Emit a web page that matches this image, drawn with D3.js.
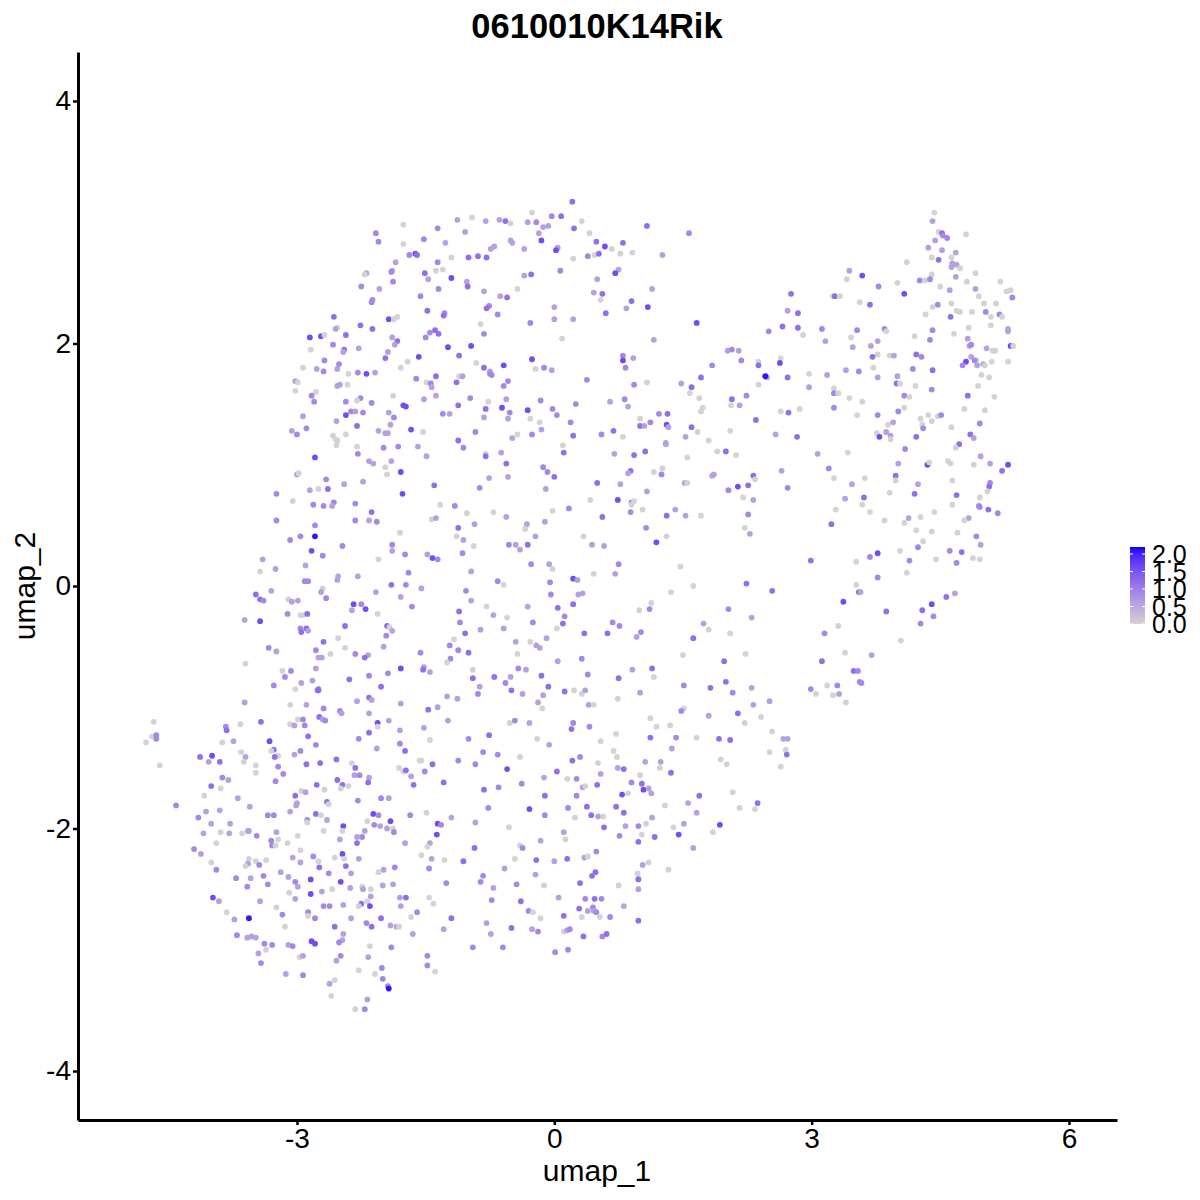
<!DOCTYPE html>
<html><head><meta charset="utf-8">
<script src="https://cdnjs.cloudflare.com/ajax/libs/d3/7.8.5/d3.min.js"></script>
<style>html,body{margin:0;padding:0;background:#fff}svg{display:block}text{font-family:"Liberation Sans",Arial,sans-serif;fill:#000}</style>
</head><body><svg id="chart" width="1200" height="1200"></svg>
<script>
const chartTitle="0610010K14Rik";
const xAxisTitle="umap_1", yAxisTitle="umap_2";
const xTicks=[-3,0,3,6], yTicks=[-4,-2,0,2,4];
const legendTicks=[0,0.5,1,1.5,2];
// each cell: [umap_1, umap_2, expression]
const cellsLowerLeft=[[-4.67,-1.12,0],[-4.69,-1.24,0],[-4.76,-1.29,0],[-4.64,-1.23,.9],[-4.64,-1.26,.9],[-4.6,-1.48,0],[-4.41,-1.81,.9],[-3.83,-1.16,.9],[-3.82,-1.19,1.2],[-3.66,-1.14,0],[-3.42,-1.12,1.2],[-3.61,-.96,.6],[-3.74,-1.28,.6],[-3.87,-1.29,0],[-4.13,-1.41,1.2],[-3.99,-1.4,1.6],[-4.03,-1.45,.6],[-3.9,-1.45,1.2],[-3.65,-1.37,0],[-3.6,-1.41,.6],[-3.62,-1.45,0],[-3.48,-1.48,0],[-3.48,-1.54,0],[-3.87,-1.58,.9],[-3.8,-1.6,.6],[-4,-1.65,1.2],[-3.89,-1.67,0],[-4.08,-1.73,0],[-3.69,-1.75,.6],[-3.55,-1.82,.6],[-4.06,-1.86,.6],[-3.9,-1.85,.6],[-4.15,-1.91,.9],[-4,-1.96,.6],[-3.78,-1.96,.6],[-4.09,-2.04,.6],[-3.89,-2.03,0],[-3.79,-2.04,.6],[-3.64,-2.04,0],[-3.57,-2.02,.9],[-3.56,-2.02,.6],[-3.47,-2.06,.9],[-3.94,-2.12,0],[-4.2,-2.17,.9],[-4.12,-2.21,.6],[-4,-2.28,0],[-3.94,-2.34,.9],[-3.56,-2.25,0],[-3.48,-2.27,0],[-3.36,-2.26,0],[-3.57,-2.29,.6],[-3.6,-2.31,0],[-3.44,-2.3,.9],[-3.71,-2.41,.9],[-3.54,-2.41,.6],[-3.39,-2.39,.9],[-3.34,-2.46,.9],[-3.58,-2.48,.9],[-3.98,-2.57,1.6],[-3.91,-2.6,.6],[-3.43,-2.6,.6],[-3.82,-2.69,0],[-3.73,-2.75,.6],[-3.56,-2.74,2.1],[-3.7,-2.88,.9],[-3.58,-2.9,.6],[-3.53,-2.89,.6],[-3.48,-2.9,.6],[-3.38,-2.95,.9],[-3.29,-2.96,.9],[-3.36,-3,0],[-3.45,-3.03,.6],[-3.42,-3.11,.9],[-3.13,-3.2,.6],[-2.93,-3.21,.9],[-3.1,-2.96,.6],[-3.05,-2.97,.9],[-2.97,-3.06,0],[-2.93,-3.05,.6],
[-3.08,-.98,0],[-2.89,-.98,.6],[-2.69,-1.01,.9],[-2.99,-1.1,0],[-2.93,-1.1,.9],[-3.08,-1.14,0],[-3.03,-1.15,.6],[-2.91,-1.15,.9],[-2.74,-1.08,1.2],[-2.7,-1.1,.6],[-2.67,-1.11,.9],[-2.87,-1.24,1.2],[-2.78,-1.31,.9],[-2.75,-.86,1.2],[-3.32,-1.28,1.6],[-3.27,-1.35,1.2],[-3.3,-1.36,0],[-3.22,-1.4,0],[-3.26,-1.41,1.2],[-2.96,-1.36,.9],[-3.03,-1.39,.6],[-3.22,-1.49,.9],[-3.16,-1.55,.9],[-3.25,-1.61,.9],[-2.89,-1.47,1.2],[-2.73,-1.46,1.2],[-2.54,-1.43,1.2],[-2.95,-1.69,0],[-2.9,-1.7,.6],[-2.68,-1.68,0],[-2.77,-1.64,1.2],[-2.53,-1.6,1.2],[-2.47,-1.64,1.2],[-2.49,-1.67,0],[-2.4,-1.65,0],[-3.02,-1.73,1.2],[-2.65,-1.78,1.2],[-2.63,-1.8,0],[-3,-1.79,.6],[-3.01,-1.81,.6],[-3.08,-1.86,.6],[-3.34,-1.89,.9],[-3.27,-1.89,.9],[-2.78,-1.88,1.2],[-2.72,-1.89,0],[-2.88,-1.93,.9],[-2.88,-1.95,0],[-2.65,-1.93,.6],[-2.46,-1.98,1.6],[-2.47,-2.02,0],[-2.69,-2.02,0],[-3.24,-2.03,.6],[-2.99,-2.06,0],[-3.3,-2.1,.9],[-3.22,-2.09,0],[-3.29,-2.14,.9],[-3.25,-2.14,0],[-3.11,-2.12,0],[-2.96,-2.18,0],[-2.5,-2.09,.6],[-3.05,-2.24,.6],[-2.96,-2.28,.6],[-2.81,-2.23,.9],[-2.75,-2.27,0],[-2.56,-2.24,0],[-2.47,-2.21,1.6],[-2.45,-2.25,0],[-2.74,-2.32,1.2],[-2.43,-2.31,1.2],[-3.19,-2.36,.6],[-3.1,-2.4,.6],[-3.02,-2.44,.9],[-2.99,-2.48,.6],[-2.84,-2.42,1.6],[-2.63,-2.37,.9],[-2.37,-2.37,.6],[-2.49,-2.44,1.6],[-3.09,-2.53,0],[-2.84,-2.54,1.6],[-2.71,-2.52,.6],[-2.59,-2.5,0],[-2.38,-2.49,.6],[-3.02,-2.58,.6],[-3.24,-2.65,0],[-2.69,-2.64,.9],[-2.62,-2.64,.9],[-2.46,-2.63,.6],[-2.87,-2.69,.9],[-2.87,-2.72,0],[-2.79,-2.74,.9],[-3.17,-2.71,.9],[-3.14,-2.81,0],[-2.56,-2.81,1.2],[-2.37,-2.74,.6],[-2.46,-2.87,.6],[-2.47,-2.92,.6],[-2.51,-2.94,.9],[-2.83,-2.93,1.6],[-2.79,-2.95,1.6],[-2.49,-3.05,.9],[-2.54,-3.09,.6],[-2.62,-3.28,.6],[-2.56,-3.25,0],[-2.6,-3.38,0],[-2.32,-3.49,0],[-2.21,-3.49,.9],[-2.18,-3.41,.6],[-2.3,-.95,.6],[-2.16,-.92,1.2],[-2.13,-.94,.6],[-2.5,-1.03,.9],[-2.48,-1.05,.6],[-2.16,-1.05,.6],[-2.06,-1.13,1.6],[-2.06,-1.16,0],[-1.93,-1.11,.6],[-2.16,-1.21,1.2],[-2.28,-1.26,.9],[-2.07,-1.34,.6],[-1.79,-.97,.6],[-1.8,-1.19,.6],[-1.8,-1.3,.9],[-1.74,-1.36,1.2],[-1.52,-1.17,.6],[-1.45,-1.27,0],[-1.47,-1.02,1.2],[-1.36,-1,.6],[-1.24,-1.11,.6],[-1.25,-.91,.6],[-1.13,-.93,.6],
[-2.36,-1.46,0],[-2.32,-1.5,1.2],[-2.33,-1.56,.6],[-2.27,-1.56,.9],[-2.16,-1.58,.6],[-2.17,-1.62,1.2],[-1.81,-1.5,0],[-1.76,-1.53,0],[-1.73,-1.52,1.2],[-1.67,-1.57,.6],[-1.51,-1.53,.9],[-1.57,-1.44,0],[-1.55,-1.44,0],[-1.42,-1.47,1.2],[-1.12,-1.44,.9],[-1.64,-1.64,1.2],[-1.29,-1.62,1.2],[-2.29,-1.77,.9],[-2.02,-1.75,.9],[-1.93,-1.75,.6],[-2.11,-1.88,1.6],[-2.05,-1.89,.9],[-1.68,-1.89,.9],[-1.49,-1.87,0],[-1.2,-1.91,.6],[-2.18,-1.94,0],[-1.91,-1.94,1.6],[-2.1,-1.97,.9],[-2.03,-1.98,.6],[-1.95,-2,.6],[-1.88,-2,0],[-1.87,-2.03,.9],[-2.21,-2.02,.6],[-2.3,-2.07,.6],[-2.24,-2.07,.9],[-2.3,-2.12,1.2],[-1.36,-1.96,1.6],[-1.32,-1.97,.9],[-1.37,-2.05,1.6],[-1.74,-2.12,.6],[-1.45,-2.12,.6],[-1.48,-2.15,0],[-1.55,-2.22,0],[-1.43,-2.25,.6],[-1.28,-2.26,0],[-2.28,-2.25,.6],[-1.86,-2.32,.9],[-1.99,-2.34,.6],[-2.05,-2.36,0],[-1.46,-2.33,.9],[-2,-2.47,.6],[-1.88,-2.46,.6],[-2.24,-2.48,0],[-2.23,-2.5,.6],[-2.14,-2.5,0],[-1.26,-2.45,.9],[-2.14,-2.56,.6],[-2.18,-2.6,0],[-2.25,-2.62,1.2],[-2.28,-2.64,0],[-2.15,-2.64,1.6],[-1.8,-2.57,.6],[-1.73,-2.57,1.2],[-1.46,-2.57,0],[-1.41,-2.62,0],[-1.79,-2.64,.6],[-1.6,-2.69,.9],[-1.67,-2.73,0],[-2.02,-2.74,1.2],[-1.2,-2.74,1.2],[-2.19,-2.78,.9],[-2.13,-2.81,1.2],[-1.91,-2.8,.6],[-1.84,-2.81,.6],[-1.81,-2.81,0],[-1.29,-2.83,.6],[-1.65,-2.87,.6],[-2.15,-2.97,0],[-1.9,-2.98,.9],[-1.48,-3.05,.9],[-2.17,-3.06,.6],[-1.48,-3.13,.9],[-2.01,-3.15,.9],[-2.28,-3.17,0],[-2.09,-3.2,0],[-1.39,-3.18,0],[-2,-3.24,.9],[-1.94,-3.3,.9],[-1.93,-3.32,2.1]];
const cellsLowerRight=[[-.89,-.89,.9],[-.5,-.86,1.2],[-.37,-.89,.6],[-.13,-.9,.6],[-.19,-.96,.6],[-.14,-1.01,0],[.12,-.87,1.2],[.23,-.86,0],[.32,-.89,0],[.36,-.86,.6],[.4,-.98,.6],[.46,-.98,0],[.74,-.93,0],[1,-.88,.6],[2.08,-.88,.9],[2.32,-.98,.6],[2.51,-.95,.6],[1.51,-1.01,0],[1.48,-1.03,.9],[1.8,-1.07,.6],[2.14,-1.05,1.2],[2.22,-1.13,0],[2.41,-1.08,0],[-.52,-1.13,0],[-.46,-1.11,.9],[-.29,-1.13,.6],[.22,-1.13,.9],[.2,-1.18,1.2],[.41,-1.16,.9],[1.12,-1.09,0],[1.19,-1.16,0],[1.35,-1.15,0],[.72,-1.22,0],[.54,-1.28,0],[1.12,-1.25,1.2],[1.42,-1.25,.9],[1.66,-1.25,0],[1.92,-1.26,1.2],[2.05,-1.27,1.2],[2.54,-1.2,0],[2.67,-1.26,.6],[2.72,-1.26,.6],[-1,-1.26,.9],[-.76,-1.23,1.2],[-.2,-1.26,0],[-.06,-1.31,.6],[-.83,-1.37,.9],[-.66,-1.39,.9],[-.4,-1.41,0],[-.92,-1.47,.9],[-.55,-1.51,1.6],[.21,-1.44,1.2],[.3,-1.41,.9],[.03,-1.53,1.2],[.51,-1.46,0],[.69,-1.36,0],[.73,-1.41,0],[1.37,-1.34,.6],[2.51,-1.37,0],[2.7,-1.35,0],[2.71,-1.39,1.2],[1.94,-1.43,0],[2.01,-1.47,0],[2.64,-1.49,0],
[.74,-1.5,.6],[.81,-1.51,1.2],[1.06,-1.45,.6],[1.24,-1.45,.6],[1.23,-1.5,0],[1.36,-1.54,1.2],[1,-1.56,0],[.54,-1.55,.6],[-.12,-1.58,.6],[.15,-1.59,0],[.26,-1.59,.9],[-.38,-1.63,.9],[-.82,-1.68,1.2],[-.65,-1.66,.9],[.33,-1.66,.6],[.36,-1.65,0],[.5,-1.64,1.2],[.9,-1.62,.9],[1.02,-1.63,1.2],[1.04,-1.68,1.6],[1.1,-1.67,.6],[1.13,-1.71,.6],[.86,-1.71,0],[.79,-1.72,1.6],[-.11,-1.73,1.2],[.26,-1.73,.9],[1.69,-1.73,1.2],[2.08,-1.7,0],[-.77,-1.83,.9],[-.29,-1.84,1.6],[.16,-1.83,.9],[.38,-1.82,1.2],[.72,-1.82,1.2],[1.29,-1.81,0],[1.56,-1.79,.6],[2.37,-1.79,1.2],[2.16,-1.83,0],[2.34,-1.84,0],[-.11,-1.89,.9],[.24,-1.91,0],[.43,-1.89,1.2],[.51,-1.9,.6],[.57,-1.9,0],[.81,-1.87,1.2],[1.66,-1.87,.6],[1.14,-1.91,.6],[-.92,-1.95,.6],[-.53,-1.99,0],[.58,-1.99,1.2],[.83,-1.98,.6],[.98,-1.98,.9],[1.07,-1.96,0],[1.39,-1.99,0],[1.51,-1.96,.6],[1.93,-1.97,1.6],[1.85,-2.03,0],[.11,-2.03,.6],[.13,-2.09,0],[.76,-2.06,.9],[1.02,-2.05,0],[1.17,-2.07,1.2],[1.45,-2.05,1.6],[-.16,-2.1,.6],[.98,-2.11,1.2],[-.93,-2.16,1.2],[-.4,-2.14,0],[-.37,-2.16,.9],[1.62,-2.16,.6],[.49,-2.19,.9],[-1.06,-2.27,1.2],[-.46,-2.25,0],[-.21,-2.26,1.2],[0,-2.27,.6],[.15,-2.25,1.2],[.35,-2.24,.6],[.39,-2.23,0],[1.1,-2.28,0],[1.03,-2.3,.6],[-.58,-2.33,.6],[-.22,-2.38,.6],[-.83,-2.39,.9],[.48,-2.36,1.2],[.44,-2.39,1.2],[.97,-2.37,0],[1.33,-2.34,0],[.98,-2.41,0],[.98,-2.42,1.2],[-.86,-2.44,.9],[-.44,-2.46,.9],[-.12,-2.47,0],[.3,-2.45,1.2],[.75,-2.47,0],[-.71,-2.49,.6],[.98,-2.5,.6],[-.73,-2.59,.9],[-.39,-2.6,1.2],[.05,-2.57,.6],[.36,-2.58,.9],[.47,-2.58,1.2],[.55,-2.58,.9],[.81,-2.64,.6],[-.3,-2.68,.9],[-.25,-2.69,0],[.29,-2.66,1.2],[.39,-2.68,.6],[.45,-2.65,.9],[.46,-2.68,.6],[.49,-2.69,.9],[-.16,-2.74,0],[.11,-2.72,1.2],[.32,-2.73,0],[.53,-2.73,0],[.65,-2.73,.9],[.98,-2.76,1.2],[-.79,-2.78,.6],[-.5,-2.82,1.2],[-.26,-2.83,.6],[-.19,-2.85,.9],[.11,-2.85,0],[.15,-2.84,.6],[.18,-2.83,.9],[-.74,-2.87,.6],[.34,-2.89,1.2],[.56,-2.89,.9],[.61,-2.87,1.2],[-.95,-2.98,.9],[-.6,-2.98,.9],[.01,-3.02,.9],[.16,-3,.9]];
const cellsCentreLeft=[[-2.79,1.06,1.6],[-2.29,1.09,.9],[-2.16,1.03,.6],[-2.11,1.01,.6],[-1.97,.98,0],[-1.9,1.03,.6],[-1.49,1.07,.6],[-.8,1.09,0],[-.8,1.07,1.2],[-1.95,.92,0],[-1.79,.94,1.6],[-3,.92,.6],[-2.98,.93,0],[-2.66,.88,.9],[-2.45,.84,.6],[-2.23,.86,.6],[-.76,.89,.6],[-.87,.81,.9],[-1.4,.83,1.2],[-3.24,.76,.9],[-2.85,.79,.6],[-2.75,.8,0],[-2.64,.8,1.2],[-1.77,.76,1.6],[-3.05,.7,0],[-2.81,.67,.9],[-2.69,.66,.9],[-2.57,.69,.9],[-2.59,.66,.6],[-2.32,.68,.9],[-1.33,.67,0],[-1.16,.66,.9],[-2.13,.61,1.2],[-1.02,.6,0],[-.71,.61,0],[-3.24,.54,.9],[-2.32,.54,.9],[-2.16,.54,.6],[-2.07,.53,.9],[-1.43,.55,0],[-1.38,.56,.6],[-2.79,.5,.9],[-.93,.51,.6],[-1.12,.48,1.2],[-1.8,.44,0],[-2.96,.41,.9],[-2.79,.41,2.1],[-3.08,.38,.9],[-1.14,.41,0],[-1.06,.38,.6],[-2.47,.33,.9],[-1.89,.34,.9],[-1.89,.29,.6],[-.94,.33,0],[-2.83,.29,1.6],[-2.7,.25,.9],[-1.74,.26,.9],[-1.48,.26,.6],[-1.07,.27,.9],[-1.42,.23,1.6],[-1.36,.22,.9],[-3.4,.22,.6],[-2.05,.22,0],[-3.25,.14,.6],[-2.9,.17,.6],[-3.43,.12,0],[-.97,.12,.6],[-1.7,.11,.9],[-2.52,.08,.6],[-2.53,.05,.6],[-2.29,.08,.6],[-2.91,.04,.9],[-2.87,.04,.9],[-1.9,.01,1.2],[-1.73,.01,.9],[-.66,.04,.9],
[-3.3,-.04,.6],[-2.7,-.02,0],[-2.72,-.05,.6],[-2.08,-.05,.6],[-1.55,-.02,.6],[-1.03,-.04,.9],[-3.48,-.07,1.2],[-3.43,-.11,1.2],[-3.39,-.12,.9],[-3.1,-.11,0],[-3.06,-.13,.6],[-2.99,-.12,.6],[-2.66,-.1,.9],[-1.79,-.09,.6],[-.97,-.12,.6],[-2.34,-.15,1.6],[-2.25,-.15,.9],[-2.2,-.19,1.6],[-2.36,-.2,.6],[-1.66,-.17,.9],[-.79,-.17,0],[-1.11,-.21,1.2],[-3.11,-.23,.9],[-2.96,-.24,0],[-2.93,-.24,0],[-2.88,-.23,1.2],[-2.06,-.23,0],[-.71,-.24,.6],[-3.61,-.28,.6],[-3.43,-.29,1.6],[-1.1,-.3,.9],[-2.44,-.33,1.2],[-1.95,-.33,1.2],[-1.92,-.34,0],[-1.89,-.37,.6],[-2.96,-.35,.9],[-2.89,-.35,1.2],[-2.95,-.38,1.2],[-2.87,-.37,.6],[-.86,-.36,.6],[-1.04,-.39,1.2],[-1.96,-.41,.9],[-2.52,-.43,0],[-1.17,-.44,0],[-2.69,-.46,1.2],[-3.33,-.51,.9],[-3.24,-.54,.6],[-2.78,-.53,.9],[-2.44,-.51,0],[-1.99,-.5,.6],[-1.22,-.49,.9],[-1.12,-.53,.9],[-1,-.55,1.2],[-2.61,-.56,0],[-2.32,-.56,.9],[-1.56,-.55,.9],[-2.17,-.57,.6],[-2.21,-.59,1.2],[-2.75,-.59,.6],[-2.71,-.59,.6],[-1.21,-.6,.9],[-1.25,-.63,0],[-3.6,-.64,0],[-2.78,-.68,.6],[-3.07,-.7,.9],[-3.17,-.7,0],[-1.52,-.67,.6],[-1.53,-.69,1.2],[-1.45,-.71,.6],[-1.79,-.68,1.6],[-.95,-.69,0],[-1.94,-.72,.9],[-3.14,-.75,.9],[-2.16,-.74,.9],[-.95,-.76,1.2],[-.7,-.75,1.2],[-2.95,-.8,.6],[-2.82,-.78,.6],[-2.39,-.77,1.2],[-3.27,-.82,.9],[-2.02,-.83,1.2],[-.87,-.83,.6],[-3.02,-.85,0],[-2.75,-.85,1.2],[-2.76,-.86,1.2]];
const cellsCentreRight=[[-.62,1.1,.6],[.11,1.1,1.2],[.7,1.09,.6],[.93,1.08,1.2],[1.06,1.11,1.2],[1.9,1.11,0],[2,1.11,1.2],[2.12,1.08,0],[1.55,1.06,0],[-.56,1.01,1.2],[-.13,.98,.9],[-.08,.94,.9],[0,.9,1.2],[-.54,.9,.6],[.89,.95,1.2],[.86,.93,.6],[1.16,.94,0],[1.26,.97,0],[1.25,.92,.9],[1.84,.91,.6],[1.86,.92,.6],[2.32,.91,1.2],[2.34,.88,0],[.5,.85,1.2],[.77,.84,.6],[1.52,.85,.6],[1.55,.85,0],[-.1,.8,.6],[1.08,.78,.6],[2.14,.82,1.6],[2.26,.83,1.2],[2.03,.79,.9],[2.2,.73,0],[.42,.71,0],[.74,.71,1.6],[.9,.69,.9],[.93,.7,0],[.9,.67,0],[2.32,.71,.6],[.17,.64,.9],[-.02,.62,0],[.89,.61,.9],[1.03,.63,0],[1.41,.63,.6],[-.56,.57,.6],[.56,.57,1.2],[1.31,.58,1.2],[1.53,.58,.6],[1.71,.58,0],[2.26,.59,.9],[-.11,.53,.6],[-.32,.51,.6],[-.34,.47,0],[1.07,.48,.9],[2.22,.48,0],[-.22,.41,.6],[.34,.41,0],[2.28,.43,.6],[1.31,.41,0],[1.19,.36,1.6],[-.53,.34,.9],[-.45,.34,.6],[-.31,.34,1.2],[-.4,.3,.6],[.44,.34,.6],[.58,.33,.6],[-.27,.18,.9],[-.06,.18,.6],[-.02,.14,0],[.75,.18,.9],[1.47,.16,0],[.46,.1,0],[.71,.1,.6],[.22,.06,1.6],[.27,.05,.6],[-.59,.01,0],[-.05,.03,.9],[2.24,.02,1.2],[1.62,0,0],[1.36,-.05,0],[-.04,-.07,.9],[.28,-.07,.6],[.33,-.06,.6],[.22,-.15,1.2],[-.31,-.17,.6],[.04,-.18,1.2],[1.13,-.14,0],[.99,-.2,0],[1.11,-.19,.9],[2.03,-.19,.9],[.12,-.25,.9],[-.55,-.26,0],[2.3,-.26,.6],[-.25,-.3,.9],[.1,-.31,1.2],[.68,-.3,.9],[.76,-.33,.9],[1.74,-.31,.6],[.03,-.35,0],[1.8,-.36,0],[-.59,-.35,.6],[.35,-.39,1.2],[.62,-.39,1.2],[1.01,-.38,.9],[2.05,-.39,0],[.96,-.42,.6],[1.62,-.43,1.2],[-.09,-.43,.6],[-.45,-.46,.6],[-.28,-.46,0],[-.21,-.49,.6],[-.17,-.51,.6],[-.43,-.56,0],[1.5,-.57,0],[2.23,-.56,0],[.04,-.62,.6],[.32,-.6,.9],[1.98,-.62,1.2],[-.42,-.68,.9],[-.33,-.69,.6],[.91,-.69,.6],[1.14,-.68,1.2],[-.15,-.74,1.2],[.39,-.73,.9],[1.16,-.75,0],[-.51,-.75,.6],[.75,-.76,1.2],[-.57,-.8,.9],[2,-.79,1.2],[-.07,-.83,1.2],[1.51,-.82,.9],[1.82,-.84,1.2],[2.3,-.84,.6]];
const cellsUpperLeft=[[-2.08,2.91,.9],[-1.76,2.98,0],[-2.05,2.84,.9],[-1.76,2.82,0],[-1.36,2.95,.9],[-1.13,3.02,.6],[-.96,3.04,0],[-.8,3.01,.6],[-.64,3.02,.6],[-1.04,2.92,.6],[-1.52,2.86,.9],[-1.27,2.83,.6],[-1.62,2.74,1.6],[-1.6,2.73,1.2],[-1.69,2.73,.9],[-.7,2.8,.6],[-.74,2.78,.6],[-1,2.71,1.2],[-.89,2.72,1.2],[-.79,2.71,1.2],[-1.2,2.71,0],[-1.85,2.67,.6],[-1.36,2.67,.9],[-1.51,2.58,1.2],[-1.38,2.6,0],[-1.3,2.61,0],[-1.89,2.6,.6],[-1.9,2.59,.9],[-2.19,2.58,.6],[-2.21,2.57,0],[-1.47,2.53,.6],[-1.2,2.54,1.6],[-1.02,2.51,.6],[-1.88,2.51,.9],[-1.01,2.47,1.2],[-2.25,2.47,.9],[-2.04,2.45,.6],[-1.35,2.45,.9],[-.82,2.43,.6],[-1.56,2.39,.9],[-.63,2.39,.6],[-2.12,2.36,.9],[-2.13,2.34,.9],[-.76,2.31,.9],[-.79,2.29,1.2],[-1.48,2.27,1.2],[-1.28,2.25,.9],[-1.29,2.23,1.2],[-.66,2.24,.9],[-2.57,2.22,1.2],[-1.93,2.2,1.6],[-1.83,2.22,0],[-1.87,2.2,0],[-.86,2.16,0],[-2.26,2.15,1.2],[-2.53,2.13,0],[-2.55,2.12,.6],[-2.12,2.12,1.2],[-1.39,2.11,1.2],[-1.45,2.09,.9],[-1.35,2.08,1.2],[-.82,2.08,.9],[-2.85,2.05,1.6],[-2.72,2.06,1.6],[-2.68,2.07,0],[-2.43,2.07,1.2],[-1.89,2.05,.6],[-1.5,2.05,.9],[-1.83,2.02,1.2],[-1.86,1.99,.6],[-1.24,1.97,1.6],[-.97,1.98,1.6],[-2.58,1.99,.9],[-2.84,1.95,0],[-2.45,1.95,1.2],[-2.46,1.93,.6],[-2.28,1.96,.6],[-1.94,1.93,.6],[-1.11,1.9,1.2],[-1.58,1.89,1.6],[-1.97,1.88,1.2],[-2.68,1.86,.9],[-2.51,1.83,.9],[-1.71,1.85,0],[-.91,1.84,0],[-1.79,1.8,0],[-2.93,1.8,0],[-2.77,1.79,.6],[-2.53,1.79,.6],[-.82,1.8,1.2],[-.75,1.77,.6],[-.75,1.75,.9],[-.73,1.74,.9],[-2.69,1.77,.9],[-2.29,1.76,.9],[-2.19,1.75,1.6],[-2.09,1.76,.6],[-2.4,1.75,0],[-1.38,1.73,1.2],[-1.11,1.73,0],[-1.07,1.73,.6],[-1.61,1.71,.9],[-3.02,1.69,.6],[-2.99,1.68,0],[-1.49,1.68,0],[-1.44,1.67,.9],[-1.43,1.64,.6],[-1.14,1.68,1.2],[-2.5,1.66,.6],[-2.53,1.65,.6],[-2.41,1.66,0],[-3.02,1.61,0],[-2.78,1.6,0],[-2.83,1.57,.9],[-1.88,1.57,0],[-1.38,1.57,.6],[-.98,1.55,.9],[-1.52,1.54,.6],[-2.26,1.55,.9],[-2.3,1.53,0],[-2.8,1.52,.9],[-2.43,1.52,.9],[-2.13,1.51,.9],[-.77,1.52,0],[-1.76,1.49,1.6],[-1.73,1.48,1.6],[-1.12,1.49,1.2],[-2.37,1.44,.9],[-2.32,1.44,.6],[-2.43,1.41,1.6],[-2.23,1.43,.9],[-1.93,1.43,.6],[-1.3,1.42,.9],[-1.22,1.42,.6],[-.8,1.46,1.2],[-2.93,1.4,.6],[-1.87,1.39,.9],[-.82,1.39,.6],[-2.54,1.36,.6],[-1.91,1.33,.6],[-2.3,1.32,1.2],[-2.89,1.3,.9],[-3.06,1.28,.6],[-3,1.25,.9],[-1.67,1.29,1.6],[-1.53,1.27,0],[-2.05,1.28,.6],[-1.97,1.26,.6],[-1.94,1.26,.6],[-.92,1.27,.9],[-2.58,1.24,0],[-2.43,1.25,0],[-2.55,1.21,0],[-2.53,1.2,0],[-1.12,1.2,1.2],[-2.54,1.16,0],[-2.3,1.15,0],[-1.82,1.15,.9],[-1.59,1.15,.6],[-1.99,1.14,.9],[-1.06,1.14,.9]];
const cellsUpperRight=[[.21,3.17,1.2],[-.26,3.08,0],[-.03,3.05,.9],[.08,3.05,1.2],[-.57,3.01,1.2],[-.51,2.99,0],[-.31,3,.6],[-.21,3,.9],[.32,3.01,0],[1.08,2.97,1.2],[-.13,2.96,.6],[-.07,2.97,.6],[.23,2.95,1.2],[.41,2.91,0],[1.57,2.91,.9],[-.18,2.91,.6],[-.51,2.85,.6],[-.49,2.83,.6],[-.15,2.85,1.6],[.49,2.84,1.2],[.8,2.83,1.2],[.59,2.8,1.6],[.04,2.79,.6],[.02,2.77,1.6],[-.35,2.78,.6],[.67,2.78,0],[.77,2.74,0],[.91,2.75,0],[.47,2.73,0],[.52,2.74,1.2],[.39,2.72,.9],[.22,2.7,0],[1.26,2.73,.6],[.07,2.6,.9],[.75,2.61,.6],[.71,2.58,1.6],[-.35,2.56,.6],[-.27,2.57,1.2],[.5,2.53,.6],[-.43,2.45,0],[1.14,2.45,.6],[.46,2.42,.6],[.56,2.41,1.2],[.54,2.36,0],[-.55,2.38,1.2],[.9,2.35,1.2],[0,2.3,.6],[.84,2.29,.6],[1.09,2.3,1.6],[.6,2.25,1.2],[0,2.2,.6],[.22,2.2,.6],[-.28,2.17,.9],[1.66,2.17,1.6],[.09,2.04,0],[1.16,2.03,.6],[2.02,1.94,.6],[2.07,1.95,.9],[2.15,1.94,.6],[.8,1.9,.9],[.92,1.88,.6],[-.26,1.87,1.6],[.8,1.86,1.6],[2.18,1.86,.9],[-.59,1.82,1.6],[.83,1.8,.9],[-.12,1.8,.9],[-.22,1.79,0],[-.03,1.78,.6],[1.84,1.82,.9],[2.38,1.85,0],[2.38,1.82,1.2],[1.71,1.72,1.2],[.38,1.7,.9],[-.54,1.69,.9],[1.08,1.68,0],[-.59,1.65,.9],[.93,1.66,.9],[1.48,1.67,.6],[1.6,1.64,1.2],[2.38,1.66,0],[1.58,1.59,0],[-.56,1.54,.6],[1.69,1.55,0],[-.16,1.53,.9],[.82,1.54,.9],[.65,1.52,.6],[2.07,1.54,1.2],[2.24,1.57,.9],[2.06,1.49,0],[2.16,1.49,.6],[-.61,1.47,1.6],[-.31,1.45,1.6],[.25,1.5,.9],[.86,1.48,.6],[-.02,1.46,.9],[1.73,1.47,0],[-.52,1.43,.9],[1.71,1.44,0],[1.22,1.42,.9],[1.32,1.42,1.2],[.03,1.41,.9],[-.54,1.38,.6],[-.28,1.38,0],[1,1.38,0],[-.17,1.35,0],[.19,1.35,.9],[1.12,1.35,.9],[2.35,1.37,1.2],[1,1.32,1.2],[1.05,1.32,.6],[1.31,1.33,1.6],[1.33,1.31,.6],[-.15,1.29,.6],[1.6,1.31,1.2],[.69,1.28,1.2],[1.67,1.27,0],[2.05,1.28,0],[-.43,1.25,0],[-.26,1.25,.9],[.22,1.24,1.2],[.55,1.25,.9],[.8,1.23,0],[-.49,1.22,.6],[1.53,1.23,.6],[1.8,1.2,0],[.1,1.16,0],[1.3,1.18,.6],[1.3,1.17,.6]];
const cellsFarRightUpper=[[4.43,3.08,0],[4.41,3.01,.6],[4.48,2.92,0],[4.52,2.91,1.2],[4.53,2.89,.9],[4.58,2.87,.9],[4.8,2.9,0],[4.44,2.85,.6],[4.36,2.79,.6],[4.52,2.77,.6],[4.68,2.75,.6],[4.63,2.71,0],[4.4,2.71,0],[4.48,2.69,1.2],[4.11,2.67,0],[4.64,2.66,.6],[4.69,2.65,.6],[4.63,2.63,.6],[4.73,2.62,0],[4.91,2.58,0],[4.4,2.57,0],[3.44,2.6,.6],[3.59,2.56,1.6],[3.41,2.53,0],[4.68,2.55,.6],[4.26,2.52,.9],[4.32,2.52,0],[4.38,2.53,.9],[4.81,2.51,0],[5.2,2.51,0],[4,2.5,0],[3.78,2.47,.9],[4.5,2.47,0],[4.61,2.44,.6],[4.91,2.45,.6],[5.32,2.44,0],[5.27,2.43,0],[4.08,2.41,1.6],[2.76,2.41,1.2],[3.25,2.39,0],[3.27,2.39,1.2],[3.33,2.39,0],[4.95,2.39,0],[5.34,2.38,.9],[3.56,2.34,0],[3.68,2.32,1.2],[4.47,2.32,.9],[4.63,2.33,0],[4.41,2.3,0],[5.01,2.33,0],[5.15,2.33,0],[2.72,2.27,.6],[2.84,2.25,1.2],[4.69,2.27,0],[4.73,2.26,0],[4.87,2.26,0],[5.03,2.26,.9],[4.33,2.24,0],[4.62,2.22,1.2],[5.19,2.24,.9],[5.09,2.22,0],[5.22,2.22,0],[2.66,2.14,1.2],[2.84,2.13,1.2],[3.12,2.12,.9],[2.5,2.1,.9],[2.9,2.07,0],[3.53,2.11,.9],[3.85,2.12,.9],[3.87,2.1,0],[4.41,2.11,.9],[4.83,2.13,0],[5.09,2.15,0],[5.29,2.12,.6],[5.29,2.1,.6],[4.66,2.08,0],[3.46,2.05,0],[4.2,2.06,0],[4.82,2.04,.6],[3.16,2.02,.6],[3.77,2.02,.6],[4.38,2.03,.9],[3.69,1.98,.6],[3.48,1.97,.6],[4.84,1.98,.6],[4.86,1.99,.9],[5.04,1.96,.6],[5.32,1.98,1.6],[5.35,1.98,0],[5.14,1.94,0],[5.11,1.94,0],[2.64,1.88,0],[2.63,1.84,1.6],[3.77,1.91,0],[3.91,1.9,0],[3.96,1.9,.6],[3.71,1.89,1.2],[4.22,1.91,1.2],[4.28,1.89,.9],[4.86,1.89,.6],[4.92,1.86,0],[4.9,1.86,.9],[4.8,1.85,1.6],[4.76,1.82,.9],[4.93,1.82,.6],[5,1.83,.6],[5.02,1.82,0],[5.1,1.85,0],[5.29,1.85,0],
[3.72,1.8,0],[3.4,1.78,.6],[3.55,1.77,.9],[4.18,1.79,.9],[4.41,1.78,1.2],[2.97,1.75,0],[3.18,1.74,.6],[2.48,1.72,.6],[2.46,1.73,2.1],[2.72,1.72,1.2],[3.77,1.72,.6],[4,1.73,.6],[4.98,1.74,0],[5.07,1.72,0],[3.99,1.67,1.2],[4.03,1.67,0],[4.21,1.65,0],[2.97,1.64,.6],[3.26,1.63,0],[3.26,1.59,.9],[3.31,1.59,0],[4.94,1.65,0],[4.4,1.62,.9],[3.44,1.55,0],[3.59,1.52,0],[4.08,1.57,.9],[4.14,1.56,0],[4.82,1.57,1.2],[5.13,1.56,0],[3.26,1.47,.9],[4.08,1.47,0],[4.78,1.46,0],[5.02,1.45,0],[2.86,1.46,0],[2.64,1.44,0],[2.73,1.43,1.2],[4.01,1.44,.9],[3.53,1.41,0],[3.77,1.41,.9],[4.36,1.41,0],[4.47,1.4,0],[4.51,1.41,.9],[4.27,1.38,0],[4.4,1.36,0],[3.95,1.35,.6],[3.89,1.33,0],[4.29,1.33,0],[4.96,1.34,.9],[4.3,1.3,.9],[4.63,1.31,0],[3.76,1.26,0],[3.87,1.27,.6],[3.92,1.24,.6],[3.92,1.21,0],[3.79,1.23,1.6],[4.22,1.23,1.2],[4.85,1.25,1.2],[4.89,1.22,.6],[2.58,1.25,.6],[2.83,1.23,1.2],[4.72,1.17,1.2],[4.68,1.14,0],[4.09,1.13,.9]];
const cellsFarRightLower=[[3.07,1.09,.6],[3.42,1.1,0],[4.97,1.07,.6],[4.01,1.01,.6],[4.35,1,1.6],[4.37,1.02,0],[4.59,1.03,0],[4.62,1.01,0],[4.89,1,0],[5.08,1.01,.6],[5.29,1,1.6],[5.22,.95,1.2],[2.65,.95,.6],[3.2,.97,.9],[3.98,.91,1.2],[3.26,.89,0],[3.62,.89,0],[3.98,.87,0],[4.64,.87,0],[3.47,.84,.6],[4.24,.84,.6],[5.08,.85,.9],[5.07,.82,1.2],[5.05,.78,0],[2.72,.81,.9],[3.91,.77,0],[4.2,.76,1.2],[4.69,.75,1.2],[3.39,.72,.6],[3.61,.73,1.2],[4.96,.73,0],[3.59,.67,0],[4.64,.67,0],[4.95,.66,.9],[4.96,.65,.9],[5.06,.63,1.2],[3.28,.63,0],[3.68,.61,0],[4.43,.61,0],[5.17,.6,.9],[4.27,.57,0],[4.13,.56,.6],[3.85,.54,0],[4.08,.52,0],[4.83,.56,.6],[4.78,.54,0],[3.23,.51,1.2],[4.22,.46,0],[4.4,.45,0],[4.7,.44,0],[4.92,.41,.9],[4.3,.37,0],[4.97,.34,.6],[4.24,.32,.9],[4.03,.29,0],[4.61,.29,.9],[4.75,.28,1.2],[3.68,.24,.9],[3.77,.27,1.6],[4.88,.23,0],[4.96,.22,0],[4.45,.22,0],[2.99,.21,1.2],[4.14,.21,.9],[3.52,.2,0],[4.69,.19,.9],[4.11,.11,0],[3.77,.07,.9],[3.52,.01,0],[2.54,-.04,1.2],[3.55,-.05,1.2],[3.57,-.05,.6],[4.67,-.06,.6],[4.57,-.09,1.2],[3.37,-.13,1.6],[4.4,-.15,1.6],[3.87,-.21,1.2],[4.29,-.2,1.2],[4.42,-.25,.9],[4.27,-.31,.9],[3.31,-.33,0],[3.15,-.39,.9],[4.04,-.45,0],[3.39,-.55,0],[3.7,-.57,.6],[3.12,-.62,1.2],[3.49,-.7,1.2],[3.54,-.7,.9],[3.56,-.79,.9],[3.58,-.8,.9],[2.99,-.85,.9],[3.18,-.82,0],[3.3,-.82,.9],[3.05,-.89,0],[3.25,-.9,0],[3.32,-.89,.6],[3.4,-.96,0]];
const allCells=[...cellsLowerLeft,...cellsLowerRight,...cellsCentreLeft,...cellsCentreRight,...cellsUpperLeft,...cellsUpperRight,...cellsFarRightUpper,...cellsFarRightLower];

const svg=d3.select("#chart");
const x=d3.scaleLinear().domain([-5.553,6.56]).range([78,1117]);
const y=d3.scaleLinear().domain([-4.404,4.404]).range([1120,52]);
const color=d3.scaleLinear().domain([0,2.2]).range(["lightgrey","blue"]).interpolate(d3.interpolateLab);

svg.append("g").selectAll("circle").data(allCells).join("circle")
  .attr("cx",d=>x(d[0])).attr("cy",d=>y(d[1])).attr("r",2.9).attr("fill",d=>color(d[2]));

const plainInt=d=>String(d);
const gx=svg.append("g").attr("transform","translate(0,1120)")
  .call(d3.axisBottom(x).tickValues(xTicks).tickSizeOuter(0).tickSizeInner(5).tickPadding(3).tickFormat(plainInt));
const gy=svg.append("g").attr("transform","translate(78,0)")
  .call(d3.axisLeft(y).tickValues(yTicks).tickSizeOuter(0).tickSizeInner(5).tickPadding(2).tickFormat(plainInt));
[gx,gy].forEach(g=>{
  g.select(".domain").attr("stroke","#000").attr("stroke-width",3);
  g.selectAll(".tick line").attr("stroke","#000").attr("stroke-width",2.5);
  g.selectAll(".tick text").attr("font-size",28).attr("fill","#000").attr("font-family","Liberation Sans");
});

svg.append("text").attr("x",597).attr("y",38).attr("text-anchor","middle").attr("font-size",34.5).attr("font-weight","bold").text(chartTitle);
svg.append("text").attr("x",597).attr("y",1181).attr("text-anchor","middle").attr("font-size",30).text(xAxisTitle);
svg.append("text").attr("transform","translate(35,586) rotate(-90)").attr("text-anchor","middle").attr("font-size",30).text(yAxisTitle);

// colour legend
const lg=d3.scaleLinear().domain([0,2.2]).range([624,547]);
const grad=svg.append("defs").append("linearGradient").attr("id","lg").attr("x1",0).attr("x2",0).attr("y1",1).attr("y2",0);
d3.range(0,1.001,0.05).forEach(t=>grad.append("stop").attr("offset",t).attr("stop-color",color(t*2.2)));
svg.append("rect").attr("x",1130).attr("y",547).attr("width",15).attr("height",77).attr("fill","url(#lg)");
const lgG=svg.append("g");
lgG.selectAll("line.l").data(legendTicks).join("line").attr("class","l").attr("x1",1130).attr("x2",1133).attr("y1",d=>lg(d)).attr("y2",d=>lg(d)).attr("stroke","#fff").attr("stroke-width",1);
lgG.selectAll("line.r").data(legendTicks).join("line").attr("class","r").attr("x1",1142).attr("x2",1145).attr("y1",d=>lg(d)).attr("y2",d=>lg(d)).attr("stroke","#fff").attr("stroke-width",1);
lgG.selectAll("text").data(legendTicks).join("text").attr("x",1152).attr("y",d=>lg(d)+9).attr("font-size",25).text(d=>d3.format(".1f")(d));
</script></body></html>
